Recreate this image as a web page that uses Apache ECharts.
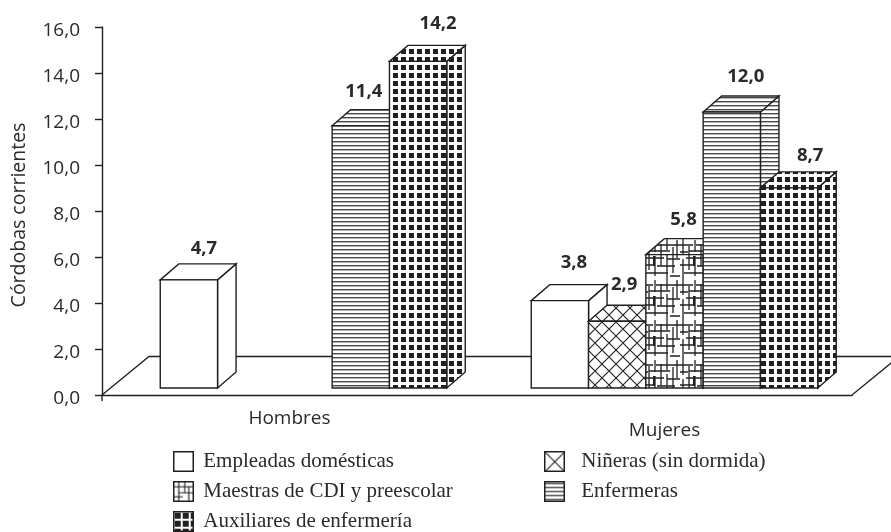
<!DOCTYPE html>
<html><head><meta charset="utf-8">
<style>html,body{margin:0;padding:0;background:#fff}#c{width:891px;height:532px}</style>
<script src="https://cdn.jsdelivr.net/npm/echarts@6/dist/echarts.min.js"></script>
</head><body><div id="c"></div>
<script>
const categories = ['Hombres', 'Mujeres'];
const empleadas = [4.7, 3.8];
const nineras = [null, 2.9];
const maestras = [null, 5.8];
const enfermeras = [11.4, 12.0];
const auxiliares = [14.2, 8.7];
const yTicks = {min: 0, max: 16, step: 2};
const seriesNames = ['Empleadas domésticas', 'Niñeras (sin dormida)', 'Maestras de CDI y preescolar', 'Enfermeras', 'Auxiliares de enfermería'];

const INK = '#231f20';
const SANS = '"Open Sans"';
function tile(w, h, draw) {
  const c = document.createElement('canvas'); c.width = w; c.height = h;
  const g = c.getContext('2d'); g.fillStyle = '#fff'; g.fillRect(0, 0, w, h);
  g.strokeStyle = INK; g.fillStyle = INK; g.lineWidth = 1; draw(g, w, h);
  return {image: c, repeat: 'repeat'};
}
function seg(g, a) { g.beginPath(); a.forEach(s => { g.moveTo(s[0], s[1]); g.lineTo(s[2], s[3]); }); g.stroke(); }
const cross = p => tile(p, p, (g, w, h) => {
  g.lineWidth = 1.1;
  seg(g, [[0, 0, w, h], [w, 0, 0, h], [-w/2, h/2, w/2, 3*h/2], [w/2, -h/2, 3*w/2, h/2], [w/2, 3*h/2, 3*w/2, h/2], [-w/2, h/2, w/2, -h/2]]);
});
const patWhite = '#fff';
const patCross = cross(14);
const patCrossLegend = cross(20);
const patLines = tile(4, 4, (g, w) => { g.fillStyle = '#4a4849'; g.fillRect(0, 1, w, 1.4); });
const gridTile = (p, s) => tile(p, p, g => { g.fillRect(1, 1, s, s); });
const patGrid = gridTile(8, 5);
const patGridLegend = gridTile(8, 6);
const patMaestras = tile(40, 40, (g) => {
  g.lineWidth = 1.3;
  seg(g, [[3,0,3,15],[3,19,3,40],[9,6,9,30],[15,0,15,12],[15,16,15,36],[21,4,21,26],[27,0,27,10],[27,14,27,40],[33,7,33,33],[37,0,37,18],
          [0,5,13,5],[16,5,40,5],[0,12,8,12],[9,11,30,11],[6,18,24,18],[27,19,40,19],[0,25,15,25],[17,26,35,26],[4,33,28,33],[30,36,40,36]]);
  g.fillRect(13, 16, 2, 10);
});
const patMaestrasLegend = tile(20, 20, g => {
  g.lineWidth = 1.1;
  seg(g, [[5,0,5,20],[11,0,11,11],[0,5,20,5],[5,11,20,11],[0,15,9,15],[15,5,15,20]]);
});

const fills = [patWhite, patCross, patMaestras, patLines, patGrid];
const legendFills = ['#fff', patCrossLegend, patMaestrasLegend, patLines, patGridLegend];
const values = [empleadas, nineras, maestras, enfermeras, auxiliares];
const clusterShift = [14, 10];
const DX = 18.5, DY = 16, BASE = 7, SLOT = 57.3;
// nudge of each printed value from its default place, per series and category
const labelNudge = [[[1, 4.5], [0, -1.5]], [[0, 0], [-7, -1]], [[0, 0], [-5, 1]], [[-11, 1.5], [0, 0.5]], [[6, -2], [7, 4]]];

function fmt(v) { return v.toFixed(1).replace('.', ','); }
function barRenderer(si) {
  return function (params, api) {
    const cat = api.value(0), v = api.value(1);
    const c0 = api.coord([cat, 0]);
    const top = api.coord([cat, v])[1] - BASE;
    const bot = c0[1] - BASE;
    const x0 = c0[0] + clusterShift[cat] - 2.5 * SLOT + si * SLOT;
    const x1 = x0 + SLOT;
    const st = {fill: fills[si], stroke: INK, lineWidth: 1.4, lineJoin: 'miter'};
    const n = labelNudge[si][cat];
    return {type: 'group', children: [
      {type: 'polygon', shape: {points: [[x1, top], [x1 + DX, top - DY], [x1 + DX, bot - DY], [x1, bot]]}, style: st},
      {type: 'polygon', shape: {points: [[x0, top], [x0 + DX, top - DY], [x1 + DX, top - DY], [x1, top]]}, style: st},
      {type: 'rect', shape: {x: x0, y: top, width: SLOT, height: bot - top}, style: st},
      {type: 'text', x: (x0 + x1) / 2 + 14 + n[0], y: top - DY - 20 + n[1], style: {
        text: fmt(v), fill: '#2b2a2b', font: 'bold 18.5px ' + SANS, align: 'center', verticalAlign: 'middle'}}
    ]};
  };
}
const floorSeries = {
  type: 'custom', name: 'floor', silent: true, clip: false, data: [[0, 0]], encode: {x: 0, y: 1},
  renderItem: function (params) {
    const s = params.coordSys, l = s.x, b = s.y + s.height, r = s.x + s.width;
    const fx = 47, fy = 38.5;
    return {type: 'group', children: [
      {type: 'polyline', shape: {points: [[l, b], [l + fx, b - fy], [r + fx, b - fy], [r, b]]},
        style: {fill: null, stroke: INK, lineWidth: 1.3}},
      {type: 'line', shape: {x1: l, y1: b, x2: l, y2: b + 6}, style: {stroke: INK, lineWidth: 1.4}}
    ]};
  }
};
const barSeries = seriesNames.map((name, si) => ({
  type: 'custom', name, clip: false, encode: {x: 0, y: 1},
  data: values[si].map((v, i) => v == null ? null : [i, v]).filter(Boolean),
  renderItem: barRenderer(si)
}));
const legendPos = [[173, 451, 10], [544, 451, 17], [173, 481, 10], [544, 481, 17], [173, 511, 10]];
const legends = seriesNames.map((name, i) => ({
  data: [name], left: legendPos[i][0], top: legendPos[i][1], orient: 'horizontal', icon: 'rect',
  itemWidth: 19.5, itemHeight: 19.5, itemGap: 0, selectedMode: false, padding: 0,
  itemStyle: {color: legendFills[i], borderColor: INK, borderWidth: 1.5},
  textStyle: {fontFamily: 'Liberation Serif', fontSize: 21, color: '#2b2a2b', padding: [2, 0, 0, legendPos[i][2] - 5]}
}));

const chart = echarts.init(document.getElementById('c'), null, {renderer: 'canvas'});
chart.setOption({
  animation: false, backgroundColor: '#fff',
  grid: {left: 102, right: 39, top: 27, bottom: 137, containLabel: false, outerBoundsMode: 'none'},
  legend: legends,
  xAxis: {
    type: 'category', data: categories, boundaryGap: true,
    axisLine: {lineStyle: {color: INK, width: 1.4}},
    axisTick: {show: false},
    axisLabel: {margin: 18, fontFamily: SANS, fontSize: 19, color: '#2b2a2b', lineHeight: 12,
      interval: 0, formatter: (v, i) => (i === 1 ? '\n' + v : v)},
    splitLine: {show: false}
  },
  yAxis: {
    type: 'value', min: yTicks.min, max: yTicks.max, interval: yTicks.step,
    name: 'Córdobas corrientes', nameLocation: 'middle', nameGap: 73, nameRotate: 90,
    nameTextStyle: {fontFamily: SANS, fontSize: 19.5, color: '#2b2a2b', padding: [0, 8, 0, 0]},
    axisLine: {show: true, lineStyle: {color: INK, width: 1.4}},
    axisTick: {show: true, length: 7, lineStyle: {color: INK, width: 1.4}},
    axisLabel: {margin: 22, fontFamily: SANS, fontSize: 19, color: '#2b2a2b', formatter: fmt,
      verticalAlign: 'top', lineHeight: 7},
    splitLine: {show: false}
  },
  series: [floorSeries].concat(barSeries)
});
</script></body></html>
